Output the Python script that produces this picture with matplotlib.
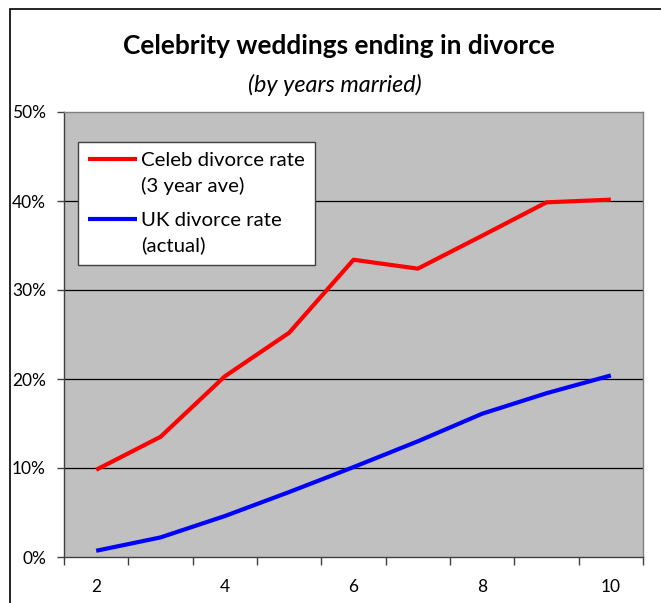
import matplotlib
matplotlib.use('Agg')
import matplotlib.pyplot as plt
from matplotlib.patches import Rectangle
from matplotlib.ticker import FixedLocator, FuncFormatter
from matplotlib.legend_handler import HandlerLine2D

plt.rcParams['font.family'] = ['Lato', 'DejaVu Sans']

# Data
years = [2, 3, 4, 5, 6, 7, 8, 9, 10]
celeb_rate = [9.8, 13.5, 20.3, 25.2, 33.4, 32.4, 36.1, 39.85, 40.15]
uk_rate = [0.7, 2.2, 4.6, 7.3, 10.1, 13.0, 16.1, 18.4, 20.4]
y_ticks = [0, 10, 20, 30, 40, 50]
x_labels = ['2', '4', '6', '8', '10']

W, H = 661, 603
fig = plt.figure(figsize=(W / 100, H / 100), dpi=100)
fig.patch.set_facecolor('white')

# chart-area border (Excel style), runs off the right/bottom edge
fig.patches.append(Rectangle((10 / W, -0.1), 1.2, 1.1 - 9 / H,
                             transform=fig.transFigure, fill=False,
                             edgecolor='black', linewidth=1.2))

ax = fig.add_axes([64 / W, 1 - 557 / H, (643 - 64) / W, (557 - 112) / H])
ax.set_facecolor('#C0C0C0')

pos = list(range(len(years)))
ax.plot(pos, celeb_rate, color='#FF0000', linewidth=3, solid_capstyle='butt',
        label='Celeb divorce rate\n(3 year ave)')
ax.plot(pos, uk_rate, color='#0000FF', linewidth=3, solid_capstyle='butt',
        label='UK divorce rate\n(actual)')

ax.set_xlim(-0.5, len(years) - 0.5)
ax.set_ylim(0, 50)

for v in y_ticks[1:-1]:
    ax.axhline(v, color='black', linewidth=0.9, zorder=1)

ax.set_yticks(y_ticks)
ax.yaxis.set_major_formatter(FuncFormatter(lambda v, p: f'{int(v)}%'))
ax.tick_params(axis='y', length=5, width=1, color='#404040', pad=8,
               labelsize=12.5)

label_pos = [years.index(int(s)) for s in x_labels]
ax.set_xticks(label_pos)
ax.set_xticklabels(x_labels)
ax.xaxis.set_minor_locator(FixedLocator([p - 0.5 for p in range(len(years) + 1)]))
ax.tick_params(axis='x', which='major', length=0, pad=16, labelsize=12.5)
ax.tick_params(axis='x', which='minor', length=6, width=1, color='#404040')

for side in ['top', 'right']:
    ax.spines[side].set_color('#808080')
for side in ['left', 'bottom']:
    ax.spines[side].set_color('#404040')
for s in ax.spines.values():
    s.set_linewidth(1)


# legend line sits on the first text line, like Excel does
class TopLine(HandlerLine2D):
    def create_artists(self, legend, orig_handle, xdescent, ydescent,
                       width, height, fontsize, trans):
        arts = super().create_artists(legend, orig_handle, xdescent, ydescent,
                                      width, height, fontsize, trans)
        for a in arts:
            a.set_ydata([y + 10 for y in a.get_ydata()])
        return arts


leg = ax.legend(loc='upper left', bbox_to_anchor=(14 / 579, 1 - 30 / 445),
                frameon=True, fancybox=False, fontsize=14.7,
                handlelength=2.4, handletextpad=0.2, labelspacing=0.85,
                borderpad=0.5, borderaxespad=0,
                handler_map={plt.Line2D: TopLine()})
for t in leg.get_texts():
    t.set_linespacing(1.5)
leg.get_frame().set_edgecolor('#404040')
leg.get_frame().set_linewidth(1)
leg.get_frame().set_facecolor('white')
leg.get_frame().set_alpha(1)

fig.text(339 / W, 1 - 46 / H, 'Celebrity weddings ending in divorce',
         ha='center', va='center', fontsize=18.9, fontweight='bold')
fig.text(335 / W, 1 - 85 / H, '(by years married)',
         ha='center', va='center', fontsize=16.8, style='italic')

fig.savefig('out.png', dpi=100)
